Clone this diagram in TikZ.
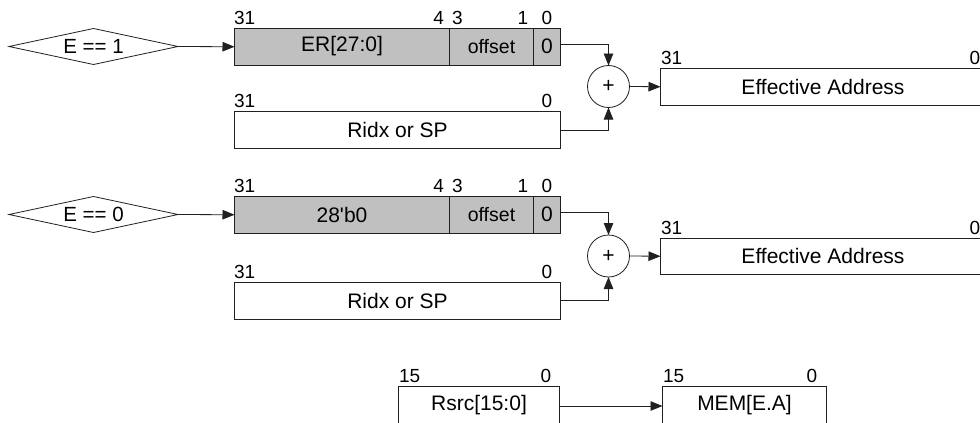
\documentclass[tikz,border=0pt]{standalone}
\usepackage{fontspec}
\setmainfont{Liberation Sans}
\newfontfamily\plainsans{Liberation Sans}
\usetikzlibrary{shapes.geometric,arrows.meta}
\definecolor{regfill}{HTML}{C0C0C0}
\definecolor{linec}{HTML}{202020}
\tikzset{
  every node/.style={inner sep=0pt,outer sep=0pt},
  cond/.style={diamond,aspect=4.7,draw=linec,line width=0.8pt,minimum width=169pt,minimum height=36pt,font=\fontsize{20.5}{23}\selectfont},
  regbox/.style={rectangle,draw=linec,line width=0.8pt,anchor=north west},
  greybox/.style={regbox,fill=regfill},
  txt/.style={font=\fontsize{21}{24}\selectfont},
  small/.style={font=\fontsize{19.5}{22}\selectfont},
  bitl/.style={font=\fontsize{19}{21}\selectfont,anchor=base},
  adder/.style={circle,draw=linec,line width=0.8pt,minimum size=42pt,font=\fontsize{21}{23}\selectfont},
  conn/.style={draw=linec,line width=0.8pt,-{Triangle[length=12pt,width=9.5pt]}},
}
\begin{document}
\begin{tikzpicture}[x=1pt,y=-1pt]
\useasboundingbox (0,0) rectangle (980,423);
\clip (0,0) rectangle (980,423);
\fill[white] (0,0) rectangle (980,423);

% ---------- Row 1 ----------
\node[cond] (d1) at (93.5,46.5) {E == 1};
\node[greybox,minimum width=326pt,minimum height=36.5pt] (er1) at (234.5,28.5) {};
\draw[draw=linec,line width=0.8pt] (449.5,28.5) -- (449.5,65) (533.5,28.5) -- (533.5,65);
\node[txt] (er1t) at (342,46.5) {ER[27:0]};
\node[small] (of1t) at (491.5,46.5) {offset};
\node[txt] (z1t) at (547,46.5) {0};
\node[bitl,anchor=base west] (b1a) at (234,24.5) {31};
\node[bitl,anchor=base east] (b1b) at (444,24.5) {4};
\node[bitl,anchor=base west] (b1c) at (452,24.5) {3};
\node[bitl] (b1d) at (523,24.5) {1};
\node[bitl] (b1e) at (547,24.5) {0};
\node[regbox,minimum width=326pt,minimum height=36.5pt] (rx1) at (234.5,111.5) {};
\node[txt] (rx1t) at (397.5,130) {Ridx or SP};
\node[bitl,anchor=base west] (b1f) at (234,107.5) {31};
\node[bitl] (b1g) at (547,107.5) {0};
\node[adder] (ad1) at (608.5,86.5) {+};
\node[regbox,minimum width=340pt,minimum height=36.5pt] (ea1) at (660.5,68.5) {};
\node[txt] (ea1t) at (823,86.5) {Effective Address};
\node[bitl,anchor=base west] (b1h) at (661,64.5) {31};
\node[bitl] (b1i) at (975,64.5) {0};
\coordinate (c1a) at (560.5,44.5);
\coordinate (c1b) at (560.5,130);
\draw[conn] (d1.east) -- (er1.west);
\draw[conn] (c1a) -| (ad1.north);
\draw[conn] (c1b) -| (ad1.south);
\draw[conn] (ad1.east) -- (ea1.west);

% ---------- Row 2 ----------
\node[cond] (d2) at (93.5,214.5) {E == 0};
\node[greybox,minimum width=326pt,minimum height=36.5pt] (er2) at (234.5,196.5) {};
\draw[draw=linec,line width=0.8pt] (449.5,196.5) -- (449.5,233) (533.5,196.5) -- (533.5,233);
\node[txt] (er2t) at (342,214.5) {\plainsans 28'b0};
\node[small] (of2t) at (491.5,214.5) {offset};
\node[txt] (z2t) at (547,214.5) {0};
\node[bitl,anchor=base west] (b2a) at (234,192.5) {31};
\node[bitl,anchor=base east] (b2b) at (444,192.5) {4};
\node[bitl,anchor=base west] (b2c) at (452,192.5) {3};
\node[bitl] (b2d) at (523,192.5) {1};
\node[bitl] (b2e) at (547,192.5) {0};
\node[regbox,minimum width=326pt,minimum height=37pt] (rx2) at (234.5,282) {};
\node[txt] (rx2t) at (397.5,300.5) {Ridx or SP};
\node[bitl,anchor=base west] (b2f) at (234,278) {31};
\node[bitl] (b2g) at (547,278) {0};
\node[adder] (ad2) at (608.5,256) {+};
\node[regbox,minimum width=340pt,minimum height=36.5pt] (ea2) at (660.5,238) {};
\node[txt] (ea2t) at (823,256) {Effective Address};
\node[bitl,anchor=base west] (b2h) at (661,234) {31};
\node[bitl] (b2i) at (975,234) {0};
\coordinate (c2a) at (560.5,212.5);
\coordinate (c2b) at (560.5,300.5);
\draw[conn] (d2.east) -- (er2.west);
\draw[conn] (c2a) -| (ad2.north);
\draw[conn] (c2b) -| (ad2.south);
\draw[conn] (ad2.east) -- (ea2.west);

% ---------- Bottom ----------
\node[regbox,minimum width=161pt,minimum height=60pt] (rs) at (398.5,386.5) {};
\node[txt] (rst) at (479,405) {Rsrc[15:0]};
\node[bitl,anchor=base west] (b3a) at (399,382.5) {15};
\node[bitl] (b3b) at (546,382.5) {0};
\node[regbox,minimum width=164pt,minimum height=60pt] (mem) at (662.5,386.5) {};
\node[txt] (memt) at (744.5,405) {MEM[E.A]};
\node[bitl,anchor=base west] (b3c) at (663,382.5) {15};
\node[bitl] (b3d) at (812,382.5) {0};
\coordinate (c3a) at (559.5,406);
\draw[conn] (c3a) -- (mem.west |- c3a);
\end{tikzpicture}
\end{document}
